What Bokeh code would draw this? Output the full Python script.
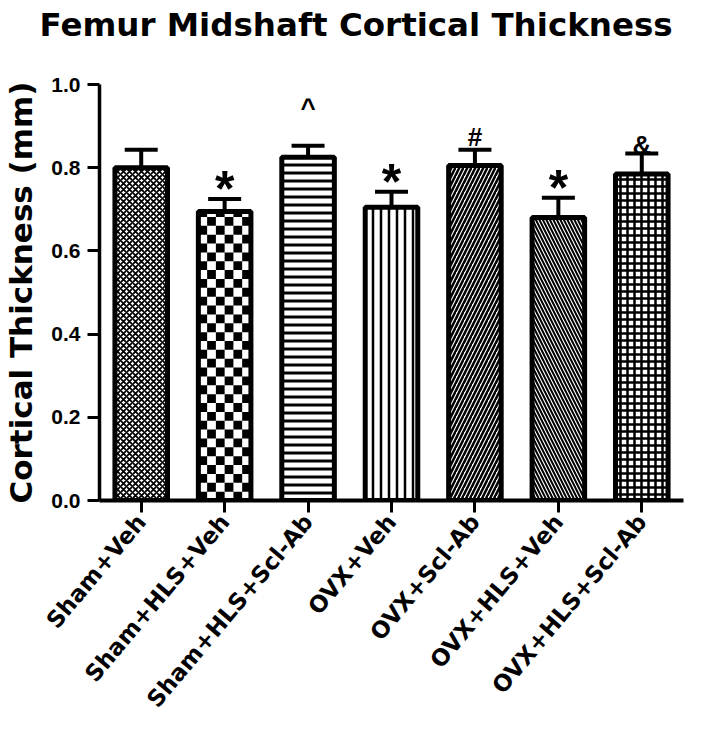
import math
from bokeh.plotting import figure
from bokeh.models import (FactorRange, Range1d, Whisker, TeeHead, ColumnDataSource, Title,
                          FixedTicker, NumeralTickFormatter, CDSView, IndexFilter)
from bokeh.core.properties import value
from bokeh.embed import file_html
from bokeh.resources import INLINE

# ---- data ----
categories = ["Sham+Veh", "Sham+HLS+Veh", "Sham+HLS+Scl-Ab", "OVX+Veh",
              "OVX+Scl-Ab", "OVX+HLS+Veh", "OVX+HLS+Scl-Ab"]
means = [0.800, 0.695, 0.825, 0.705, 0.805, 0.680, 0.785]
sems = [0.043, 0.030, 0.028, 0.037, 0.038, 0.048, 0.049]
marks = ["", "*", "^", "*", "#", "*", "&"]
y_ticks = [0.0, 0.2, 0.4, 0.6, 0.8, 1.0]
title_text = "Femur Midshaft Cortical Thickness"
y_label = "Cortical Thickness (mm)"

# ---- styles ----
BAR_W = 0.63
bar_styles = [
    dict(hatch_pattern="diagonal_cross", hatch_scale=6, hatch_weight=1.8),
    dict(),  # coarse checkerboard, drawn as cells below
    dict(hatch_pattern="horizontal_line", hatch_scale=8, hatch_weight=3),
    dict(hatch_pattern="vertical_line", hatch_scale=8, hatch_weight=2.5),
    dict(hatch_pattern="right_diagonal_line", hatch_scale=8, hatch_weight=2.5),
    dict(hatch_pattern="left_diagonal_line", hatch_scale=7, hatch_weight=2),
    dict(hatch_pattern="cross", hatch_scale=7, hatch_weight=2.5),
]
CHECKER_BAR = 1        # index of the bar with the coarse checkerboard
CHECKER_COLS = 6
CHECKER_CELL_H = 0.0213  # y-units of one cell (square on screen)
mark_styles = {
    "*": dict(size="50px", dy=-10, font="Liberation Sans"),
    "^": dict(size="26px", dy=-38, font="Liberation Sans"),
    "#": dict(size="26px", dy=-13, font="Liberation Sans"),
    "&": dict(size="26px", dy=-9, font="Liberation Sans"),
}

p = figure(width=687, height=729, output_backend="svg", toolbar_location=None,
           x_range=FactorRange(*categories, range_padding=0.0),
           y_range=Range1d(0, 1.0), title=title_text,
           min_border_left=94, min_border_right=4, min_border_top=77, min_border_bottom=229)
p.outline_line_color = None
p.xgrid.visible = False
p.ygrid.visible = False
p.background_fill_color = "white"
p.border_fill_color = "white"

src = ColumnDataSource(dict(cat=categories, mean=means,
                            upper=[m + s for m, s in zip(means, sems)], mark=marks))

# bar fills
for i, cat in enumerate(categories):
    p.vbar(x=[cat], top=[means[i]], width=BAR_W, bottom=0,
           fill_color="white", line_color=None, hatch_color="black", **bar_styles[i])

# checkerboard cells for the coarse-checker bar
ci = CHECKER_BAR
cw = BAR_W / CHECKER_COLS
left0 = ci + 0.5 - BAR_W / 2
L, R, B, T = [], [], [], []
nrows = int(math.ceil(means[ci] / CHECKER_CELL_H))
for r in range(nrows):
    for c in range(CHECKER_COLS):
        if (r + c) % 2 == 0:
            L.append(left0 + c * cw)
            R.append(left0 + (c + 1) * cw)
            B.append(r * CHECKER_CELL_H)
            T.append(min((r + 1) * CHECKER_CELL_H, means[ci]))
p.quad(left=L, right=R, bottom=B, top=T, fill_color="black", line_color=None)

# bar outlines
p.vbar(x="cat", top="mean", width=BAR_W, bottom=0, source=src,
       fill_color=None, line_color="black", line_width=5)

w = Whisker(source=src, base="cat", lower="mean", upper="upper", dimension="height",
            line_width=4, line_color="black",
            upper_head=TeeHead(size=33, line_width=4, line_color="black"), lower_head=None)
p.add_layout(w)

for mk, st in mark_styles.items():
    idx = [i for i, m in enumerate(marks) if m == mk]
    if not idx:
        continue
    p.text(x="cat", y="upper", text="mark", source=src, view=CDSView(filter=IndexFilter(idx)),
           text_align="center", text_baseline="alphabetic", y_offset=st["dy"],
           text_font=value(st["font"]), text_font_style="bold", text_font_size=st["size"],
           text_color="black")

# title (outermost) + spacer between title and frame
p.title.text_font = "DejaVu Sans"
p.title.text_font_style = "bold"
p.title.text_font_size = "32.5px"
p.title.text_color = "black"
p.title.align = "left"
p.title.offset = -60
p.title.standoff = 6
p.add_layout(Title(text=" ", text_font_size="10px", standoff=25), "above")

# y axis
ya = p.yaxis[0]
ya.ticker = FixedTicker(ticks=y_ticks)
ya.formatter = NumeralTickFormatter(format="0.0")
ya.bounds = (0, 1.0)
ya.axis_line_width = 3.5
ya.major_tick_line_width = 3
ya.major_tick_out = 12
ya.major_tick_in = 0
ya.minor_tick_line_color = None
ya.major_label_standoff = 7
ya.major_label_text_font = "Liberation Sans"
ya.major_label_text_font_style = "bold"
ya.major_label_text_font_size = "21px"
ya.major_label_text_color = "black"
ya.axis_label = y_label
ya.axis_label_text_font = "DejaVu Sans"
ya.axis_label_text_font_style = "bold"
ya.axis_label_text_font_size = "31px"
ya.axis_label_text_color = "black"
ya.axis_label_standoff = 9

# x axis
xa = p.xaxis[0]
xa.axis_line_width = 4
xa.major_tick_line_width = 3
xa.major_tick_out = 12
xa.major_tick_in = 0
xa.minor_tick_line_color = None
xa.major_label_orientation = math.radians(50)
xa.major_label_standoff = 5
xa.major_label_text_font = "DejaVu Sans"
xa.major_label_text_font_style = "bold"
xa.major_label_text_font_size = "23px"
xa.major_label_text_color = "black"

open("out.html", "w").write(file_html(p, INLINE))
